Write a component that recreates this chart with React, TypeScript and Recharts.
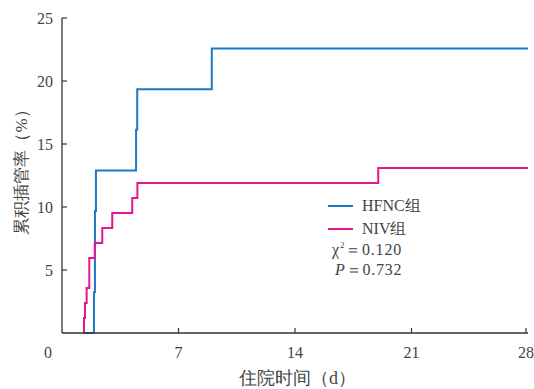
import { LineChart, Line, XAxis, YAxis } from 'recharts';

const hfncDays = [1.3, 1.92, 1.98, 2.04, 4.45, 4.52, 9.0, 28];
const hfncRate = [0, 3.23, 9.68, 12.9, 16.13, 19.35, 22.58, 22.58];
const nivDays = [1.3, 1.32, 1.38, 1.48, 1.64, 1.97, 2.42, 3.02, 4.22, 4.53, 19.0, 28];
const nivRate = [0, 1.19, 2.38, 3.57, 5.95, 7.14, 8.33, 9.52, 10.71, 11.9, 13.1, 13.1];
const xTicks = [0, 7, 14, 21, 28];
const yTicks = [0, 5, 10, 15, 20, 25];

const hfncData = hfncDays.map((d, i) => ({ day: d, rate: hfncRate[i] }));
const nivData = nivDays.map((d, i) => ({ day: d, rate: nivRate[i] }));

const BLUE = '#1f78c1';
const PINK = '#e5168a';
const AXIS = '#333';
const TEXT = '#444';
const SERIF = 'Liberation Serif';

function XTick({ x, y, payload }: any) {
  const v = payload.value;
  return (
    <g>
      {v !== 0 && <line x1={x} y1={y} x2={x} y2={y - 5} stroke={AXIS} strokeWidth={1.2} />}
      <text x={v === 0 ? x - 14 : x} y={y + 19} textAnchor="middle" dominantBaseline="central" fill={TEXT} fontSize={16} style={{ fontFamily: SERIF }}>
        {v}
      </text>
    </g>
  );
}

function YTick({ x, y, payload }: any) {
  const v = payload.value;
  if (v === 0) return null;
  return (
    <g>
      <line x1={x} y1={y} x2={x + 5} y2={y} stroke={AXIS} strokeWidth={1.2} />
      <text x={x - 9} y={y} textAnchor="end" dominantBaseline="central" fill={TEXT} fontSize={16} style={{ fontFamily: SERIF }}>
        {v}
      </text>
    </g>
  );
}

export default function App() {
  return (
    <div style={{ position: 'absolute', left: 0, top: 0, width: 534, height: 389, background: '#fff', fontFamily: SERIF }}>
      <LineChart width={534} height={389} margin={{ top: 18, right: 6, bottom: 0, left: 12 }} style={{ fontFamily: SERIF }}>
        <XAxis
          dataKey="day"
          type="number"
          domain={[0, 28]}
          ticks={xTicks}
          height={56}
          tickSize={0}
          tickMargin={0}
          tickLine={false}
          tick={<XTick />}
          axisLine={{ stroke: AXIS, strokeWidth: 1.3 }}
          allowDuplicatedCategory={false}
        />
        <YAxis
          type="number"
          domain={[0, 25]}
          ticks={yTicks}
          width={50}
          tickSize={0}
          tickMargin={0}
          tickLine={false}
          tick={<YTick />}
          axisLine={{ stroke: AXIS, strokeWidth: 1.3 }}
        />
        <Line data={hfncData} dataKey="rate" type="stepAfter" stroke={BLUE} strokeWidth={2} dot={false} isAnimationActive={false} />
        <Line data={nivData} dataKey="rate" type="stepAfter" stroke={PINK} strokeWidth={2} dot={false} isAnimationActive={false} />
      </LineChart>

      {/* legend + stats */}
      <div style={{ position: 'absolute', left: 328, top: 194, fontSize: 16, color: TEXT, lineHeight: '23px' }}>
        <div style={{ display: 'flex', alignItems: 'center' }}>
          <span style={{ display: 'inline-block', width: 25, height: 2, background: BLUE, marginRight: 9 }} />
          HFNC组
        </div>
        <div style={{ display: 'flex', alignItems: 'center' }}>
          <span style={{ display: 'inline-block', width: 25, height: 2, background: PINK, marginRight: 9 }} />
          NIV组
        </div>
        <div style={{ marginLeft: 4, lineHeight: '20px', height: 20, letterSpacing: 0.8 }}>
          χ<span style={{ fontSize: 9, position: 'relative', top: -7, lineHeight: 0 }}>2</span>＝0.120
        </div>
        <div style={{ marginLeft: 7, lineHeight: '19px', height: 19, letterSpacing: 0.8 }}>
          <i>P</i>＝0.732
        </div>
      </div>

      <div style={{ position: 'absolute', left: 239, top: 366, fontSize: 18, color: TEXT, whiteSpace: 'nowrap' }}>
        住院时间（d）
      </div>
      <div
        style={{
          position: 'absolute',
          left: 21,
          top: 168,
          transform: 'translate(-50%, -50%) rotate(-90deg)',
          fontSize: 17,
          color: TEXT,
          whiteSpace: 'nowrap',
        }}
      >
        累积插管率（%）
      </div>
    </div>
  );
}
